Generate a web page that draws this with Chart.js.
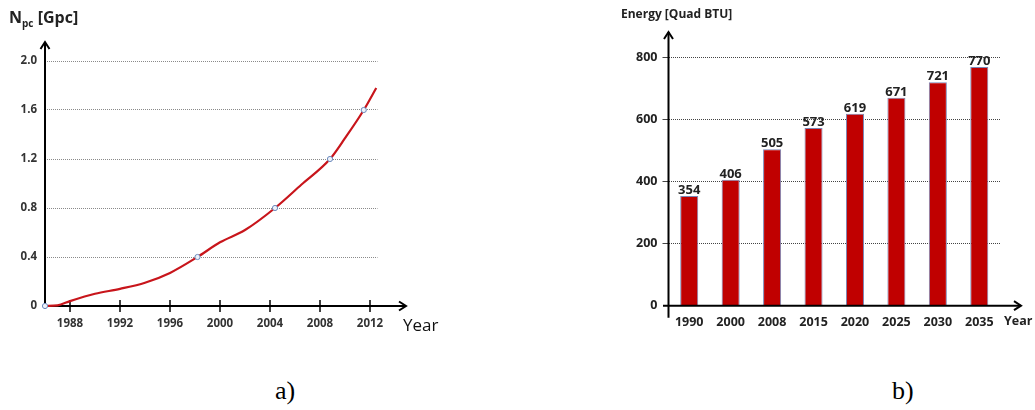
<!DOCTYPE html>
<html>
<head>
<meta charset="utf-8">
<script src="https://cdn.jsdelivr.net/npm/chart.js@4/dist/chart.umd.min.js"></script>
<style>
  html, body { margin: 0; padding: 0; background: #fff; }
  body { width: 1035px; height: 410px; position: relative; overflow: hidden; font-family: "Open Sans", Lato, sans-serif; }
  .box { position: absolute; }
  .txt { position: absolute; white-space: nowrap; color: #222; line-height: 1; }
  .cap { position: absolute; font-family: "Liberation Serif", "Times New Roman", serif; font-size: 26px; color: #000; line-height: 1; }
</style>
</head>
<body>
<div class="box" style="left:0;top:0;width:450px;height:345px;"><canvas id="npc"></canvas></div>
<div class="box" style="left:600px;top:0;width:435px;height:345px;"><canvas id="energy"></canvas></div>

<div class="txt" style="left:9px;top:9px;font-weight:700;font-size:16px;">N<span style="font-size:10px;position:relative;top:4px;">pc</span> [Gpc]</div>
<div class="txt" style="left:403px;top:316px;font-size:17px;color:#111;">Year</div>
<div class="txt" style="left:621px;top:8px;font-weight:700;font-size:12px;">Energy [Quad BTU]</div>
<div class="txt" style="left:1004px;top:315px;font-weight:700;font-size:12.5px;">Year</div>
<div class="cap" style="left:275px;top:378px;">a)</div>
<div class="cap" style="left:892px;top:378px;">b)</div>

<script>
// --- a) Npc growth curve ---
const curveYears  = [1986, 1987, 1988, 1990, 1992, 1994, 1996, 1998.2, 2000, 2002, 2004.4, 2006.5, 2008.8, 2010, 2011.5, 2012.5];
const curveValues = [0,    0.005, 0.04, 0.10, 0.14, 0.19, 0.27, 0.40,  0.52, 0.62, 0.80,   0.99,   1.20,   1.37, 1.60,   1.78];
const markerYears  = [1986, 1998.2, 2004.4, 2008.8, 2011.5];
const markerValues = [0,    0.40,   0.80,   1.20,   1.60];
const npcXTicks = [1988, 1992, 1996, 2000, 2004, 2008, 2012];
const npcYTicks = [0, 0.4, 0.8, 1.2, 1.6, 2.0];
const npcYTickLabels = ['0', '0.4', '0.8', '1.2', '1.6', '2.0'];

// --- b) energy consumption bars ---
const energyYears  = ['1990', '2000', '2008', '2015', '2020', '2025', '2030', '2035'];
const energyValues = [354, 406, 505, 573, 619, 671, 721, 770];
const energyYTicks = [0, 200, 400, 600, 800];

const FONT = '"Open Sans", Lato, sans-serif';

// Arrowed axes (and optional cross ticks on the x axis)
function drawArrowAxes(chart, opts) {
  const { ctx, chartArea: a } = chart;
  const xs = chart.scales.x;
  ctx.save();
  ctx.strokeStyle = '#000';
  ctx.lineWidth = 2;
  const top = a.top - opts.upExtra;
  ctx.beginPath();
  ctx.moveTo(a.left, a.bottom + opts.downExtra);
  ctx.lineTo(a.left, top);
  ctx.stroke();
  ctx.beginPath();
  ctx.moveTo(a.left - 4.5, top + 7);
  ctx.lineTo(a.left, top);
  ctx.lineTo(a.left + 4.5, top + 7);
  ctx.stroke();
  const right = a.right + opts.rightExtra;
  ctx.beginPath();
  ctx.moveTo(a.left - opts.leftExtra, a.bottom);
  ctx.lineTo(right, a.bottom);
  ctx.stroke();
  ctx.beginPath();
  ctx.moveTo(right - 7, a.bottom - 4.5);
  ctx.lineTo(right, a.bottom);
  ctx.lineTo(right - 7, a.bottom + 4.5);
  ctx.stroke();
  if (opts.crossTicks) {
    ctx.lineWidth = 1.5;
    xs.ticks.forEach(t => {
      const px = xs.getPixelForValue(t.value);
      ctx.beginPath();
      ctx.moveTo(px, a.bottom - 6);
      ctx.lineTo(px, a.bottom + 6);
      ctx.stroke();
    });
  }
  ctx.restore();
}

const arrowAxes = {
  id: 'arrowAxes',
  beforeDatasetsDraw(chart, args, opts) { if (opts.under) drawArrowAxes(chart, opts); },
  afterDraw(chart, args, opts) { if (!opts.under) drawArrowAxes(chart, opts); }
};

// Value labels above bars
const barValues = {
  id: 'barValues',
  afterDatasetsDraw(chart) {
    const { ctx } = chart;
    const meta = chart.getDatasetMeta(0);
    const data = chart.data.datasets[0].data;
    ctx.save();
    ctx.font = '700 13px ' + FONT;
    ctx.fillStyle = '#222';
    ctx.textAlign = 'center';
    ctx.textBaseline = 'alphabetic';
    meta.data.forEach((bar, i) => {
      ctx.fillText(String(data[i]), bar.x, bar.y - 2);
    });
    ctx.restore();
  }
};

new Chart(document.getElementById('npc'), {
  type: 'line',
  data: {
    datasets: [
      {
        data: curveYears.map((x, i) => ({ x, y: curveValues[i] })),
        borderColor: '#c8151b',
        borderWidth: 2.2,
        pointRadius: 0,
        cubicInterpolationMode: 'monotone',
        fill: false,
        clip: false,
        order: 2
      },
      {
        data: markerYears.map((x, i) => ({ x, y: markerValues[i] })),
        showLine: false,
        pointRadius: 2.6,
        pointBorderWidth: 1,
        pointBorderColor: '#6d8bbd',
        pointBackgroundColor: '#eef2fa',
        clip: false,
        order: 1
      }
    ]
  },
  options: {
    responsive: true,
    maintainAspectRatio: false,
    animation: false,
    events: [],
    layout: { padding: { top: 61, right: 72.5, left: 0, bottom: 0 } },
    plugins: {
      legend: { display: false },
      tooltip: { enabled: false },
      arrowAxes: { under: true, upExtra: 19, downExtra: 3, rightExtra: 28.5, leftExtra: 0, crossTicks: true }
    },
    scales: {
      x: {
        type: 'linear',
        min: 1986,
        max: 2012.6,
        afterBuildTicks: s => { s.ticks = npcXTicks.map(v => ({ value: v })); },
        afterFit: s => { s.height = 39; },
        grid: { display: false, drawTicks: false },
        border: { display: false },
        ticks: {
          padding: 11,
          color: '#333',
          font: { family: FONT, size: 11.5, weight: '700' },
          callback: v => String(v),
          maxRotation: 0
        }
      },
      y: {
        min: 0,
        max: 2.0,
        afterBuildTicks: s => { s.ticks = npcYTicks.map(v => ({ value: v })); },
        afterFit: s => { s.width = 45; },
        grid: {
          drawTicks: false,
          color: ctx => (ctx.tick && ctx.tick.value === 0 ? 'rgba(0,0,0,0)' : '#8a8a8a'),
          lineWidth: 1
        },
        border: { display: false, dash: [1, 1] },
        ticks: {
          padding: 8,
          color: '#333',
          font: { family: FONT, size: 11.5, weight: '700' },
          callback: (v) => npcYTickLabels[npcYTicks.indexOf(v)] ?? ''
        }
      }
    }
  },
  plugins: [arrowAxes]
});

new Chart(document.getElementById('energy'), {
  type: 'bar',
  data: {
    labels: energyYears,
    datasets: [{
      data: energyValues,
      backgroundColor: '#c00000',
      borderColor: '#7a86b6',
      borderWidth: 1,
      barPercentage: 0.435,
      categoryPercentage: 1
    }]
  },
  options: {
    responsive: true,
    maintainAspectRatio: false,
    animation: false,
    events: [],
    layout: { padding: { top: 57.7, right: 35, left: 0, bottom: 0 } },
    plugins: {
      legend: { display: false },
      tooltip: { enabled: false },
      arrowAxes: { under: false, upExtra: 25.7, downExtra: 12, rightExtra: 21, leftExtra: 5.5, crossTicks: false }
    },
    scales: {
      x: {
        afterFit: s => { s.height = 39.3; },
        grid: { display: false, drawTicks: false },
        border: { display: false },
        ticks: {
          padding: 9,
          color: '#222',
          font: { family: FONT, size: 12.5, weight: '700' },
          maxRotation: 0
        }
      },
      y: {
        min: 0,
        max: 800,
        afterBuildTicks: s => { s.ticks = energyYTicks.map(v => ({ value: v })); },
        afterFit: s => { s.width = 68.5; },
        grid: {
          drawTicks: true,
          tickLength: 6,
          color: ctx => (ctx.tick && ctx.tick.value === 0 ? 'rgba(0,0,0,0)' : '#444'),
          tickColor: ctx => (ctx.tick && ctx.tick.value === 0 ? 'rgba(0,0,0,0)' : '#444'),
          lineWidth: 1
        },
        border: { display: false, dash: [1, 1] },
        ticks: {
          padding: 5,
          color: '#222',
          font: { family: FONT, size: 12.5, weight: '700' },
          callback: v => String(v)
        }
      }
    }
  },
  plugins: [arrowAxes, barValues]
});
</script>
</body>
</html>
